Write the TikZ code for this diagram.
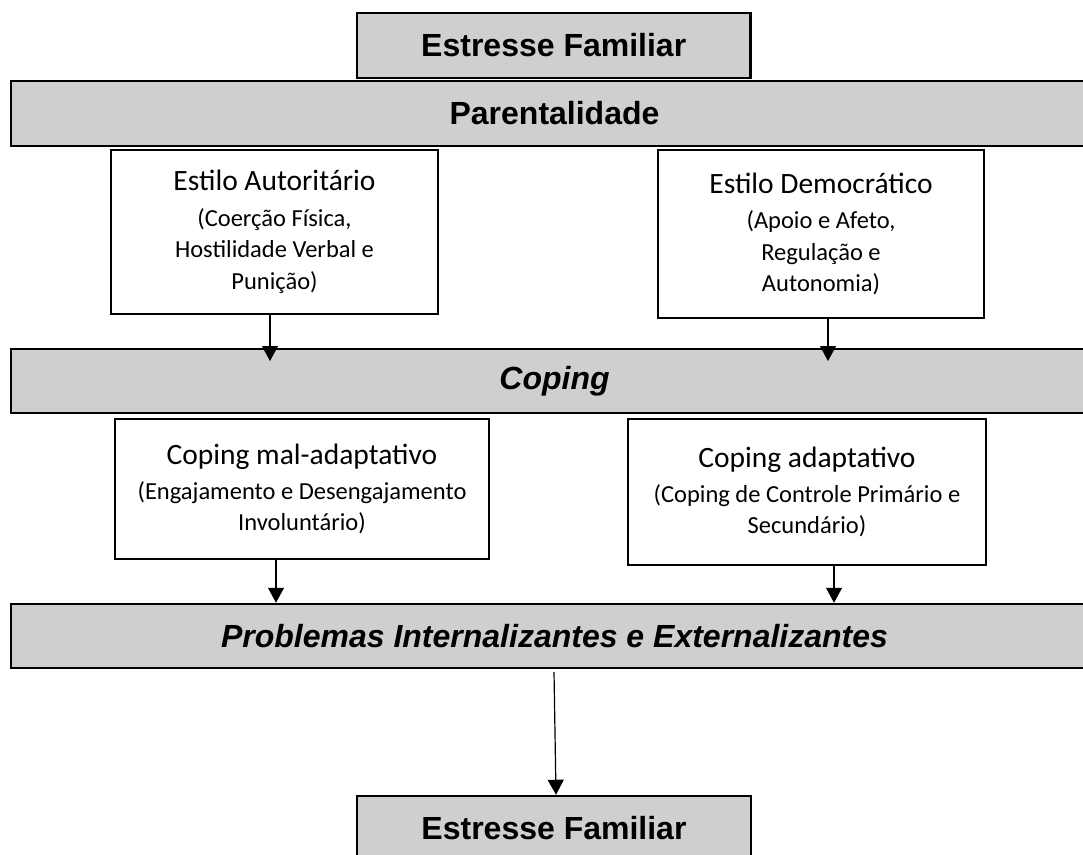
\documentclass[tikz,border=0pt]{standalone}
\usepackage{fontspec}
\usetikzlibrary{arrows.meta}
\newfontfamily\bandfont{Liberation Sans}
\newfontfamily\boxfont{Carlito}
\definecolor{bandgray}{HTML}{D0CECE}
\newcommand{\boxtitle}[1]{{\fontsize{29.5}{34}\selectfont #1}}
\begin{document}
\begin{tikzpicture}[x=1pt,y=-1pt,
  band/.style={draw=black, line width=2.5pt, fill=bandgray, inner sep=0pt,
    font=\bandfont\bfseries\fontsize{32}{38}\selectfont, minimum height=65pt},
  stylebox/.style={draw=black, line width=2.2pt, fill=white, inner sep=0pt,
    align=center, font=\boxfont\fontsize{24.5}{31.5}\selectfont},
  arr/.style={line width=1.2pt, -{Triangle[length=15pt,width=16pt]}}
]
\clip (0,0) rectangle (1083,854);
\fill[white] (0,0) rectangle (1083,854);

% top level
\node[band, minimum width=393.5pt] (stress) at (553.75,45.5) {Estresse Familiar};
\node[band, minimum width=1087pt] (par) at (554.5,113.5) {Parentalidade};

% parenting styles
\node[stylebox, minimum width=327pt, minimum height=164pt] (autor) at (274.5,232)
  {\boxtitle{Estilo Autoritário}\\[4pt](Coerção Física,\\Hostilidade Verbal e\\Punição)};
\node[stylebox, minimum width=326pt, minimum height=168pt] (democ) at (821,234)
  {\boxtitle{Estilo Democrático}\\[4pt](Apoio e Afeto,\\Regulação e\\Autonomia)};

% coping
\node[band, minimum width=1087pt, minimum height=64pt] (cop) at (554.5,381) {\itshape Coping};
\node[stylebox, minimum width=374pt, minimum height=140pt] (mal) at (302,489)
  {\boxtitle{Coping mal-adaptativo}\\[3pt](Engajamento e Desengajamento\\Involuntário)};
\node[stylebox, minimum width=358pt, minimum height=146pt] (adap) at (807,492)
  {\boxtitle{Coping adaptativo}\\[3pt](Coping de Controle Primário e\\Secundário)};

% outcomes
\node[band, minimum width=1087pt, minimum height=64pt] (prob) at (554.5,636)
  {\itshape Problemas Internalizantes e Externalizantes};
\node[band, minimum width=394pt] (stress2) at (554,828.5) {Estresse Familiar};

% arrow ends
\coordinate (t1) at (270,361);
\coordinate (t2) at (828,361);
\coordinate (t3) at (276,0);
\coordinate (t4) at (834,0);
\coordinate (s5) at (554,672);
\coordinate (t5) at (556,0);

\draw[arr] (autor.south -| t1) -- (t1);
\draw[arr] (democ.south -| t2) -- (t2);
\draw[arr] (mal.south -| t3) -- (prob.north -| t3);
\draw[arr] (adap.south -| t4) -- (prob.north -| t4);
\draw[arr] (s5) -- (stress2.north -| t5);
\end{tikzpicture}
\end{document}
